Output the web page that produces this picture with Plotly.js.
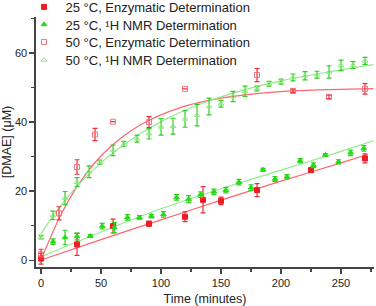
<!DOCTYPE html>
<html>
<head>
<meta charset="utf-8">
<script src="https://cdn.plot.ly/plotly-3.0.1.min.js"></script>
<style>html,body{margin:0;padding:0;background:#fff;}#chart{width:376px;height:306px;}</style>
</head>
<body>
<div id="chart"></div>
<script>
// 25 °C, Enzymatic Determination
const t25E = [0, 30, 60, 90, 120, 135, 150, 180, 225, 270];
const v25E = [0.5, 4.6, 9.9, 10.6, 12.6, 17.5, 17.2, 20.3, 26.1, 29.5];
const e25E = [1.6, 3.2, 2.0, 0.7, 1.4, 3.8, 1.1, 1.9, 0.5, 1.3];
// 25 °C, 1H NMR Determination
const t25N = [10, 20, 30, 41, 51, 61, 72, 82, 92, 102, 113, 123, 133, 144, 154, 165, 175, 185, 195, 205, 216, 227, 237, 248, 258, 269];
const v25N = [5.4, 6.6, 6.9, 7.0, 9.9, 9.5, 12.4, 12.4, 12.8, 13.3, 18.2, 17.7, 19.0, 19.8, 20.3, 22.6, 21.0, 26.2, 23.5, 24.2, 28.8, 27.5, 30.5, 28.5, 31.1, 32.4];
const e25N = [0.8, 2.1, 1.0, 0.4, 0.8, 1.5, 0.8, 0.5, 0.5, 0.8, 0.8, 1.0, 0.8, 0.8, 0.8, 0.8, 0.8, 0.4, 0.7, 0.6, 0.6, 0.7, 0.4, 0.6, 0.8, 0.8];
// 50 °C, Enzymatic Determination
const t50E = [0, 15, 30, 45, 60, 90, 120, 180, 210, 240, 270];
const v50E = [1.7, 13.6, 27.0, 36.4, 40.1, 40.0, 49.6, 53.6, 49.0, 47.3, 49.6];
const e50E = [1.5, 1.9, 2.1, 1.8, 0, 1.6, 0, 1.9, 0.5, 0.5, 1.5];
// 50 °C, 1H NMR Determination
const t50N = [0, 10, 20, 30, 40, 49, 60, 69, 80, 90, 100, 110, 120, 130, 140, 150, 160, 170, 180, 190, 200, 210, 220, 230, 240, 250, 260, 270];
const v50N = [6.7, 13.0, 18.0, 22.6, 25.6, 28.4, 31.8, 33.7, 35.2, 36.6, 38.6, 38.8, 40.9, 42.0, 44.5, 45.3, 47.4, 48.9, 49.7, 51.1, 51.7, 52.9, 53.4, 53.7, 54.5, 56.4, 56.5, 57.7];
const e50N = [0.5, 1.2, 1.9, 1.3, 1.7, 0.6, 1.5, 0.7, 1.0, 1.5, 2.4, 2.3, 2.4, 3.1, 2.4, 1.0, 1.5, 1.5, 0.7, 0.7, 0.7, 1.0, 1.2, 1.0, 1.8, 1.5, 1.0, 1.0];

// fitted curves
const fit25E_t = [0, 50, 100, 150, 200, 250, 272];
const fit25E_v = [0.1, 6.0, 11.7, 17.4, 22.9, 28.2, 30.6];
const fit25N_t = [0, 50, 100, 150, 200, 250, 277];
const fit25N_v = [1.0, 8.2, 14.9, 20.7, 26.1, 31.5, 34.6];
const fit50E_t = [0, 15, 30, 45, 60, 75, 90, 105, 120, 135, 150, 180, 210, 240, 277];
const fit50E_v = [0.2, 12.1, 21.3, 28.3, 33.5, 37.5, 40.5, 42.8, 44.6, 45.9, 46.9, 48.2, 49.0, 49.4, 49.7];
const fit50N_t = [0, 10, 20, 30, 40, 50, 60, 75, 90, 105, 120, 135, 150, 170, 200, 230, 260, 277];
const fit50N_v = [7.7, 12.8, 17.4, 21.4, 25.0, 28.2, 31.1, 34.9, 38.2, 41.0, 43.4, 45.5, 47.3, 49.4, 51.9, 53.9, 55.7, 56.6];

const names = ['25 °C, Enzymatic Determination', '25 °C, ¹H NMR Determination',
               '50 °C, Enzymatic Determination', '50 °C, ¹H NMR Determination'];

const cRed = '#ee1c25', cRedBar = '#e8303a', cPink = '#f4707c', cRedLine = '#ff6670';
const cGreen = '#22dd11', cGreenBar = '#33cc22', cLGreen = '#8ee880', cGreenLine = '#90ec88';

function pts(x, y, e, name, sym, col, barCol, leg) {
  return {
    x: x, y: y, name: name, type: 'scatter', mode: 'markers', legend: leg,
    marker: {symbol: sym, size: 5, color: col, line: {color: col, width: 1}},
    error_y: {type: 'data', array: e, visible: true, color: barCol, thickness: 1.2, width: 2.5}
  };
}
function fit(x, y, col) {
  return {x: x, y: y, type: 'scatter', mode: 'lines', showlegend: false, hoverinfo: 'skip',
          line: {color: col, width: 1.2, shape: 'spline', smoothing: 0.6}};
}

const data = [
  fit(fit25E_t, fit25E_v, cRedLine),
  fit(fit25N_t, fit25N_v, cGreenLine),
  fit(fit50E_t, fit50E_v, cRedLine),
  fit(fit50N_t, fit50N_v, cGreenLine),
  pts(t25E, v25E, e25E, names[0], 'square', cRed, cRedBar, 'legend'),
  pts(t25N, v25N, e25N, names[1], 'triangle-up', cGreen, cGreenBar, 'legend2'),
  pts(t50E, v50E, e50E, names[2], 'square-open', cPink, cRedBar, 'legend3'),
  pts(t50N, v50N, e50N, names[3], 'triangle-up-open', cLGreen, cGreenBar, 'legend4')
];

const axisCommon = {
  showline: true, linecolor: '#444', linewidth: 1.6, mirror: false,
  ticks: 'outside', ticklen: 5, tickwidth: 1.4, tickcolor: '#444',
  showgrid: false, zeroline: false,
  tickfont: {family: 'Liberation Sans, Arial, sans-serif', size: 11, color: '#222'}
};

function leg(ypx) {
  return {x: -0.04, xanchor: 'left', yref: 'container', y: 1 - ypx / 306, yanchor: 'middle',
          bgcolor: 'rgba(0,0,0,0)', font: {size: 13, color: '#222'}, itemwidth: 33};
}

const layout = {
  width: 376, height: 306,
  margin: {l: 36, r: 2, t: 17, b: 39, autoexpand: false},
  paper_bgcolor: '#fff', plot_bgcolor: '#fff',
  font: {family: 'Liberation Sans, Arial, sans-serif', color: '#222'},
  showlegend: true,
  legend: leg(7), legend2: leg(24.5), legend3: leg(42), legend4: leg(60),
  xaxis: Object.assign({}, axisCommon, {
    range: [-4.2, 277.5], tickvals: [0, 50, 100, 150, 200, 250],
    minor: {tickvals: [25, 75, 125, 175, 225, 275], ticklen: 3, tickwidth: 1.2, tickcolor: '#444', ticks: 'outside'},
    title: {text: 'Time (minutes)', font: {size: 12.5, color: '#222'}, standoff: 8}
  }),
  yaxis: Object.assign({}, axisCommon, {
    range: [-1.94, 70.4], tickvals: [0, 20, 40, 60],
    minor: {tickvals: [10, 30, 50, 70], ticklen: 3, tickwidth: 1.2, tickcolor: '#444', ticks: 'outside'},
    title: {text: '[DMAE] (μM)', font: {size: 12.5, color: '#222'}, standoff: 6}
  })
};

Plotly.newPlot('chart', data, layout, {displayModeBar: false, staticPlot: true});
</script>
</body>
</html>
